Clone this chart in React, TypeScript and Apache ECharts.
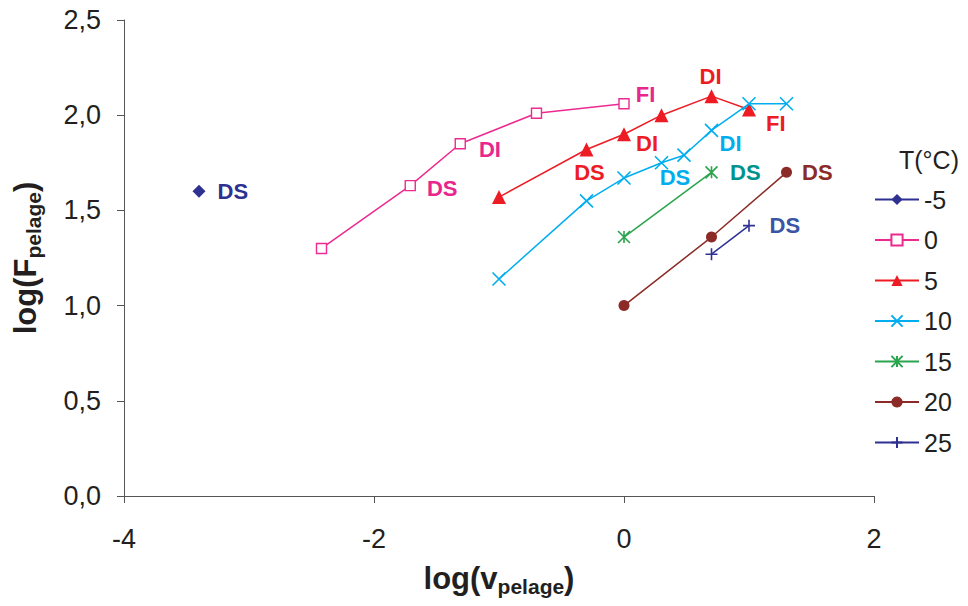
import React, { useEffect, useRef } from "react";
import * as echarts from "echarts";

// ---- data ----
const SERIES_NAMES = ["-5", "0", "5", "10", "15", "20", "25"];

const X_M5 = [-3.4];
const Y_M5 = [1.6];
const LABELS_M5 = ["DS"];

const X_0 = [-2.42, -1.71, -1.31, -0.7, 0.0];
const Y_0 = [1.3, 1.63, 1.85, 2.01, 2.06];
const LABELS_0 = ["", "DS", "DI", "", "FI"];

const X_5 = [-1.0, -0.3, 0.0, 0.3, 0.7, 1.0];
const Y_5 = [1.57, 1.82, 1.9, 2.0, 2.1, 2.03];
const LABELS_5 = ["", "DS", "DI", "", "DI", "FI"];

const X_10 = [-1.0, -0.3, 0.0, 0.3, 0.48, 0.7, 1.0, 1.3];
const Y_10 = [1.14, 1.55, 1.67, 1.75, 1.79, 1.92, 2.06, 2.06];
const LABELS_10 = ["", "", "", "", "DS", "DI", "", ""];

const X_15 = [0.0, 0.7];
const Y_15 = [1.36, 1.7];
const LABELS_15 = ["", "DS"];

const X_20 = [0.0, 0.7, 1.3];
const Y_20 = [1.0, 1.36, 1.7];
const LABELS_20 = ["", "", "DS"];

const X_25 = [0.7, 1.0];
const Y_25 = [1.27, 1.42];
const LABELS_25 = ["", "DS"];

const X_TICKS = [-4, -2, 0, 2];
const Y_TICKS = [0, 0.5, 1.0, 1.5, 2.0, 2.5];

// ---- styles ----
const FONT = "Arial, 'Liberation Sans', Helvetica, sans-serif";

const STYLES = [
  { color: "#2E3192", label: "#2E3192", symbol: "diamond", size: 13, fill: "#2E3192" },
  { color: "#EC2A90", label: "#E8268D", symbol: "rect", size: 10, fill: "#ffffff" },
  { color: "#ED1C24", label: "#ED1C24", symbol: "triangle", size: 14, fill: "#ED1C24" },
  { color: "#00AEEF", label: "#00AEEF", symbol: "path://M0,0L10,10M10,0L0,10", size: 13, fill: "none" },
  { color: "#2BA44E", label: "#00928F", symbol: "path://M5,0L5,10M0,0L10,10M10,0L0,10", size: 12, fill: "none" },
  { color: "#8B2A26", label: "#8B2A26", symbol: "circle", size: 11, fill: "#8B2A26" },
  { color: "#2E3192", label: "#3A55A5", symbol: "path://M5,0L5,10M0,5L10,5", size: 12, fill: "none" },
];

const LABEL_PLACE: Record<string, { position: string; offset: number[] }> = {
  "0-0": { position: "right", offset: [7, 0] },
  "1-1": { position: "right", offset: [6, 3] },
  "1-2": { position: "right", offset: [8, 6] },
  "1-4": { position: "right", offset: [1, -9] },
  "2-1": { position: "bottom", offset: [3, 0] },
  "2-2": { position: "right", offset: [0, 9] },
  "2-4": { position: "top", offset: [-1, 3] },
  "2-5": { position: "right", offset: [5, 14] },
  "3-4": { position: "bottom", offset: [-9, -3] },
  "3-5": { position: "right", offset: [-6, 13] },
  "4-1": { position: "right", offset: [5, 0] },
  "5-2": { position: "right", offset: [5, 0] },
  "6-1": { position: "right", offset: [7, 0] },
};

const fmtComma = (v: number) => v.toFixed(1).replace(".", ",");

export default function App() {
  const ref = useRef<HTMLDivElement>(null);
  useEffect(() => {
    if (!ref.current) return;
    const chart = echarts.init(ref.current, undefined, { renderer: "svg" });
    const xs = [X_M5, X_0, X_5, X_10, X_15, X_20, X_25];
    const ys = [Y_M5, Y_0, Y_5, Y_10, Y_15, Y_20, Y_25];
    const labs = [LABELS_M5, LABELS_0, LABELS_5, LABELS_10, LABELS_15, LABELS_20, LABELS_25];

    const series = SERIES_NAMES.map((name, si) => {
      const st = STYLES[si];
      const isPath = st.symbol.startsWith("path://");
      return {
        name,
        type: "line",
        symbol: st.symbol,
        symbolSize: st.size,
        showAllSymbol: true,
        lineStyle: { color: st.color, width: 1.5 },
        itemStyle: {
          color: st.fill,
          borderColor: st.color,
          borderWidth: isPath ? 1.6 : st.fill === "#ffffff" ? 1.4 : 0,
        },
        emphasis: { disabled: true },
        z: 2 + si,
        data: xs[si].map((x, i) => {
          const text = labs[si][i];
          const item: any = { value: [x, ys[si][i]] };
          if (text) {
            const pl = LABEL_PLACE[`${si}-${i}`] || { position: "right", offset: [0, 0] };
            item.label = {
              show: true,
              formatter: text,
              position: pl.position,
              offset: pl.offset,
              distance: 5,
              color: st.label,
              fontFamily: FONT,
              fontWeight: "bold",
              fontSize: 22,
            };
          }
          return item;
        }),
      };
    });

    const richName = {
      a: { fontSize: 31, fontWeight: "bold", color: "#231F20", fontFamily: FONT },
      b: { fontSize: 21, fontWeight: "bold", color: "#231F20", fontFamily: FONT, padding: [16, 0, 0, 0] },
    };

    const option: any = {
      animation: false,
      backgroundColor: "#ffffff",
      textStyle: { fontFamily: FONT },
      title: {
        text: "T(°C)",
        left: 894,
        top: 142,
        textStyle: { fontFamily: FONT, fontWeight: "normal", fontSize: 25, color: "#231F20" },
      },
      legend: {
        data: SERIES_NAMES,
        orient: "vertical",
        left: 869,
        top: 182,
        itemWidth: 44,
        itemHeight: 14,
        itemGap: 15.5,
        selectedMode: false,
        textStyle: { fontFamily: FONT, fontSize: 25, color: "#231F20" },
      },
      grid: { left: 124, top: 20, width: 750, height: 476, containLabel: false },
      xAxis: {
        type: "value",
        min: X_TICKS[0],
        max: X_TICKS[X_TICKS.length - 1],
        interval: X_TICKS[1] - X_TICKS[0],
        splitLine: { show: false },
        axisLine: { show: true, onZero: false, lineStyle: { color: "#555555", width: 1 } },
        axisTick: { show: true, inside: false, length: 7, lineStyle: { color: "#555555" } },
        axisLabel: {
          margin: 29,
          fontSize: 27,
          color: "#231F20",
          fontFamily: FONT,
          formatter: (v: number) => String(v),
        },
        name: "{a|log(v}{b|pelage}{a|)}",
        nameLocation: "middle",
        nameGap: 64,
        nameTextStyle: { rich: richName },
      },
      yAxis: {
        type: "value",
        min: Y_TICKS[0],
        max: Y_TICKS[Y_TICKS.length - 1],
        interval: Y_TICKS[1] - Y_TICKS[0],
        splitLine: { show: false },
        axisLine: { show: true, onZero: false, lineStyle: { color: "#555555", width: 1 } },
        axisTick: { show: true, inside: false, length: 7, lineStyle: { color: "#555555" } },
        axisLabel: {
          margin: 23,
          fontSize: 27,
          color: "#231F20",
          fontFamily: FONT,
          formatter: fmtComma,
        },
        name: "{a|log(F}{b|pelage}{a|)}",
        nameLocation: "middle",
        nameGap: 80,
        nameTextStyle: { rich: richName },
      },
      series,
    };
    chart.setOption(option);
    return () => chart.dispose();
  }, []);
  return (
    <div
      ref={ref}
      style={{ position: "fixed", left: 0, top: 0, width: 968, height: 606, background: "#fff" }}
    />
  );
}
